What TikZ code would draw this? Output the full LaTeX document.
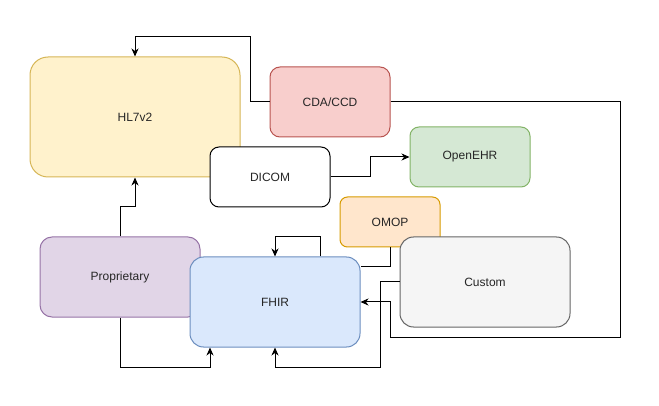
\documentclass[tikz,border=0pt]{standalone}
\usepackage{fontspec}
\setmainfont{Liberation Sans}
\usetikzlibrary{calc,arrows.meta}
\definecolor{hlfill}{HTML}{FFF2CC}\definecolor{hldraw}{HTML}{D6B656}
\definecolor{cdfill}{HTML}{F8CECC}\definecolor{cddraw}{HTML}{B85450}
\definecolor{oefill}{HTML}{D5E8D4}\definecolor{oedraw}{HTML}{82B366}
\definecolor{omfill}{HTML}{FFE6CC}\definecolor{omdraw}{HTML}{D79B00}
\definecolor{prfill}{HTML}{E1D5E7}\definecolor{prdraw}{HTML}{9673A6}
\definecolor{fhfill}{HTML}{DAE8FC}\definecolor{fhdraw}{HTML}{6C8EBF}
\definecolor{cufill}{HTML}{F5F5F5}\definecolor{cudraw}{HTML}{666666}
\begin{document}
\begin{tikzpicture}[x=1pt,y=-1pt,
  box/.style={rectangle,inner sep=0pt,line width=1pt,font=\fontsize{12}{14}\selectfont,text=black!85},
  arr/.style={line width=1pt,-{Stealth[length=8pt,width=7pt,inset=2.5pt]}},
  ln/.style={line width=1pt}]
\useasboundingbox (0,0) rectangle (659,406);
\node[box,fill=hlfill,draw=hldraw,minimum width=210pt,minimum height=120pt,rounded corners=18pt] (hl7) at (135,117) {HL7v2};
\node[box,fill=cdfill,draw=cddraw,minimum width=120pt,minimum height=70pt,rounded corners=10pt] (cda) at (330,102) {CDA/CCD};
\node[box,fill=white,draw=black,minimum width=120pt,minimum height=60pt,rounded corners=9pt] (dicom) at (270,177) {DICOM};
\node[box,fill=oefill,draw=oedraw,minimum width=120pt,minimum height=60pt,rounded corners=9pt] (openehr) at (470,157) {OpenEHR};
\node[box,fill=omfill,draw=omdraw,minimum width=100pt,minimum height=50pt,rounded corners=7.5pt] (omop) at (390,222) {OMOP};
\node[box,fill=cufill,draw=cudraw,minimum width=170pt,minimum height=90pt,rounded corners=13.5pt] (custom) at (485,282) {Custom};
\node[box,fill=prfill,draw=prdraw,minimum width=160pt,minimum height=80pt,rounded corners=12pt] (prop) at (120,277) {Proprietary};
\node[box,fill=fhfill,draw=fhdraw,minimum width=170pt,minimum height=90pt,rounded corners=13.5pt] (fhir) at (275,302) {FHIR};
\draw[arr] (cda.west) -| (250,37) -| (hl7.north);
\draw[arr] (cda.east) -| (620,337) -| (390,302) -- (fhir.east);
\draw[arr] (dicom.east) -| (370,157) -- (openehr.west);
\draw[ln] (omop.south) |- ($(fhir.east)+(0,-35)$);
\draw[arr] (custom.west) -| (380,367) -| (fhir.south);
\draw[arr] (prop.north) |- (135,207) -- (hl7.south);
\draw[arr] (prop.south) |- (210,367) -- ($(fhir.south)+(-65,0)$);
\draw[arr] ($(fhir.north)+(45,0)$) |- (275,237) -- (fhir.north);
\end{tikzpicture}
\end{document}
